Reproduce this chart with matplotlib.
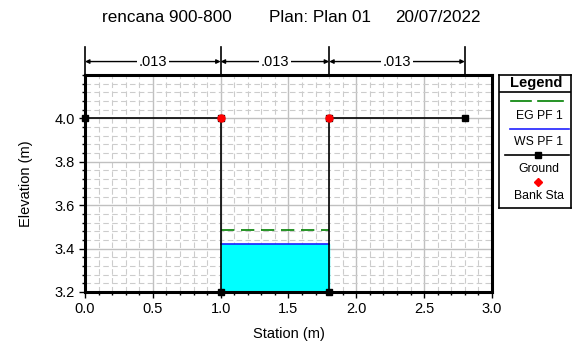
import matplotlib
matplotlib.use("Agg")
import matplotlib.pyplot as plt
from matplotlib.ticker import MultipleLocator

plt.rcParams['font.family'] = ['Liberation Sans', 'DejaVu Sans']

# data
ground_x = [0.0, 1.0, 1.0, 1.8, 1.8, 2.8]
ground_y = [4.0, 4.0, 3.2, 3.2, 4.0, 4.0]
bank_x = [1.0, 1.8]
bank_y = [4.0, 4.0]
ws_elev = 3.42
eg_elev = 3.485
n_edges = [0.0, 1.0, 1.8, 2.8]
n_values = [".013", ".013", ".013"]
title_parts = ["rencana 900-800", "Plan: Plan 01", "20/07/2022"]

fig = plt.figure(figsize=(5.79, 3.42), dpi=100)
ax = fig.add_axes([0.1468, 0.1462, 0.7029, 0.6345])

# grid
ax.xaxis.set_major_locator(MultipleLocator(0.5))
ax.xaxis.set_minor_locator(MultipleLocator(0.1))
ax.yaxis.set_major_locator(MultipleLocator(0.2))
ax.yaxis.set_minor_locator(MultipleLocator(0.04))
ax.grid(which='minor', color='#cccccc', linestyle=(0, (5, 3)), linewidth=0.8)
ax.grid(which='major', color='#c0c0c0', linestyle='-', linewidth=1.0)
ax.set_axisbelow(True)

# water
ax.fill_between([bank_x[0], bank_x[1]], 3.2, ws_elev, color='#00ffff', zorder=2)
ax.plot([bank_x[0], bank_x[1]], [ws_elev, ws_elev], color='#2020ff', lw=1.2, zorder=3)
ax.plot([bank_x[0], bank_x[1]], [eg_elev, eg_elev], color='#008000', lw=1.2,
        linestyle=(0, (8, 4)), zorder=3)

# ground
ax.plot(ground_x, ground_y, color='black', lw=1.2, marker='s', markersize=4.5,
        zorder=4, clip_on=False)
ax.plot(bank_x, bank_y, linestyle='none', marker='o', color='red', markersize=5,
        zorder=5, clip_on=False)

ax.set_xlim(0, 3.0)
ax.set_ylim(3.2, 4.2)
ax.set_yticks([3.2, 3.4, 3.6, 3.8, 4.0])
ax.set_xticks([0.0, 0.5, 1.0, 1.5, 2.0, 2.5, 3.0])
ax.xaxis.set_major_formatter(plt.FuncFormatter(lambda v, p: f"{v:.1f}"))
ax.yaxis.set_major_formatter(plt.FuncFormatter(lambda v, p: f"{v:.1f}"))
ax.tick_params(which='major', length=4, width=1, labelsize=10.5, colors='black')
ax.tick_params(which='minor', length=2.5, width=1)
for s in ax.spines.values():
    s.set_linewidth(2.2)

ax.set_xlabel('Station (m)', fontsize=10.5)
ax.xaxis.set_label_coords(0.5, -0.16)
ax.set_ylabel('Elevation (m)', fontsize=10.5)
ax.yaxis.set_label_coords(-0.128, 0.5)

# manning's n dimension marks
trans = ax.get_xaxis_transform()
for xe in n_edges:
    ax.plot([xe, xe], [1.0, 1.13], color='black', lw=1.2, transform=trans, clip_on=False)
for i, val in enumerate(n_values):
    x0, x1 = n_edges[i], n_edges[i + 1]
    ax.annotate('', xy=(x1, 1.062), xytext=(x0, 1.062), xycoords=trans, textcoords=trans,
                arrowprops=dict(arrowstyle='<|-|>', color='black', lw=1.0,
                                shrinkA=0, shrinkB=0, mutation_scale=6))
    ax.text((x0 + x1) / 2, 1.062, val, transform=trans, ha='center', va='center',
            fontsize=10.5, bbox=dict(facecolor='white', edgecolor='none', pad=1.5))

# title in three pieces
for xc, t in zip([0.2876, 0.5535, 0.7556], title_parts):
    fig.text(xc, 0.95, t, ha='center', va='center', fontsize=12.3)

# legend box
lg = fig.add_axes([0.862, 0.392, 0.124, 0.389])
lg.set_xlim(0, 72)
lg.set_ylim(133, 0)
lg.set_xticks([])
lg.set_yticks([])
for s in lg.spines.values():
    s.set_linewidth(1.2)
lg.text(37, 8, 'Legend', ha='center', va='center', fontsize=10.5, fontweight='bold')
lg.plot([0, 72], [17, 17], color='black', lw=1.2)
lg.plot([12, 32], [26, 26], color='#008000', lw=1.2)
lg.plot([39, 64], [26, 26], color='#008000', lw=1.2)
lg.text(40, 41, 'EG PF 1', ha='center', va='center', fontsize=8.8)
lg.plot([11, 70], [54, 54], color='#2020ff', lw=1.2)
lg.text(40, 67, 'WS PF 1', ha='center', va='center', fontsize=8.8)
lg.plot([6, 70], [80, 80], color='black', lw=1.2)
lg.plot([39], [80], color='black', marker='s', markersize=4.5)
lg.text(40, 94, 'Ground', ha='center', va='center', fontsize=8.8)
lg.plot([39], [107], color='red', marker='D', markersize=4)
lg.text(40, 121, 'Bank Sta', ha='center', va='center', fontsize=8.8)

fig.savefig('out.png', dpi=100)
